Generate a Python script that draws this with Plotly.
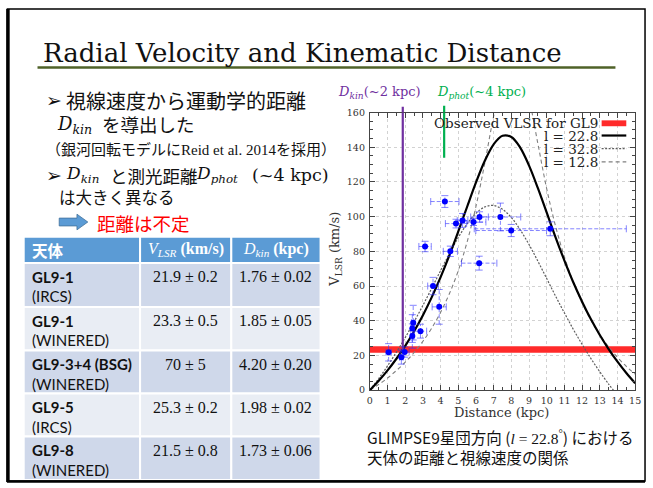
import plotly.graph_objects as go

# ---------------- data ----------------
dist_grid = [0, 0.5, 1, 1.5, 2, 2.5, 3, 3.5, 4, 4.5, 5, 5.5, 6, 6.5, 7, 7.5,
             8, 8.5, 9, 9.5, 10, 10.5, 11, 11.5, 12, 12.5, 13, 13.5, 14, 14.5, 15]
vlsr_l228 = [0, 5.4, 11.4, 18.1, 25.5, 33.9, 43.2, 53.6, 65.1, 77.8, 91.5, 105.7,
             119.7, 132.2, 141.7, 146.6, 145.9, 139.8, 129.4, 116.4, 102.3, 88.1,
             74.7, 62.2, 51.0, 40.8, 31.8, 23.7, 16.4, 9.9, 4.0]
vlsr_l128 = [0, 3.3, 7.0, 11.3, 16.1, 21.7, 28.2, 35.8, 44.9, 55.7, 68.9, 85.5,
             106, 131, 158, 180, 190, 186, 168, 142, 116, 94.5, 76.8, 62.3, 50.3,
             40.3, 32.0, 24.9, 18.9, 13.7, 9.2]
dist_l328 = [0, 0.5, 1, 1.5, 2, 2.5, 3, 3.5, 4, 4.5, 5, 5.5, 6, 6.5, 7, 7.5,
             8, 8.5, 9, 9.5, 10, 10.5, 11, 11.5, 12, 12.5, 13, 13.5, 13.77]
vlsr_l328 = [0, 6.7, 14.0, 21.9, 30.3, 39.4, 48.9, 58.8, 68.9, 78.8, 88.0, 95.9,
             101.9, 105.6, 106.4, 104.2, 99.5, 92.4, 83.9, 74.3, 64.3, 54.2, 44.5,
             35.1, 26.4, 18.2, 10.6, 3.5, 0]

obs_vlsr_range = [21.5, 25.3]          # observed VLSR band for GL9
obs_dist_range = [0, 15]

star_dist = [1.06, 1.78, 1.97, 2.40, 2.45, 2.40, 2.86, 3.57, 3.92, 3.12,
             4.55, 4.24, 4.87, 5.24, 5.86, 6.20, 7.38, 7.99, 10.20, 6.18]
star_vlsr = [21.8, 19.0, 22.0, 35.5, 38.9, 31.2, 34.0, 60.0, 48.0, 82.8,
             80.0, 108.7, 96.0, 97.8, 96.9, 99.8, 99.8, 92.0, 93.0, 73.2]
star_dist_err = [0.15, 0.10, 0.25, 0.10, 0.10, 0.10, 0.35, 0.30, 0.40, 0.35,
                 0.40, 0.80, 0.60, 0.30, 0.70, 0.50, 1.15, 2.00, 4.30, 1.00]
star_vlsr_err = [5, 4, 3, 8, 10, 7, 4, 5, 10, 3,
                 3, 3.4, 2.5, 4, 2, 3, 8, 3.5, 4, 4]

dkin_mark = 1.86      # D_kin (~2 kpc)
dkin_mark_vlsr = 22.5
dphot_mark = 4.2      # D_phot (~4 kpc)
dphot_mark_vlsr = 134

x_ticks = list(range(0, 16))
y_ticks = [0, 20, 40, 60, 80, 100, 120, 140, 160]

legend_labels = ["Observed VLSR for GL9", "l = 22.8", "l = 32.8", "l = 12.8"]

tbl_header = ["<b>天体</b>", "<i>V<sub>LSR</sub></i> <b>(km/s)</b>",
              "<i>D<sub>kin</sub></i> <b>(kpc)</b>"]
tbl_names = ["GL9-1", "GL9-1", "GL9-3+4 (BSG)", "GL9-5", "GL9-8"]
tbl_inst = ["IRCS", "WINERED", "WINERED", "IRCS", "WINERED"]
tbl_vlsr = ["21.9 ± 0.2", "23.3 ± 0.5", "70 ± 5", "25.3 ± 0.2", "21.5 ± 0.8"]
tbl_dkin = ["1.76 ± 0.02", "1.85 ± 0.05", "4.20 ± 0.20", "1.98 ± 0.02", "1.73 ± 0.06"]

# ---------------- layout helpers (pixel -> paper) ----------------
W, H = 653, 488
def px(x):
    return x / W
def py(y):
    return 1 - y / H

SERIF = "DejaVu Serif"
JP = "Noto Sans CJK JP"
EBAR = "rgba(50,50,255,0.6)"

fig = go.Figure()

# observed band
fig.add_trace(go.Scatter(
    x=[obs_dist_range[0], obs_dist_range[1], obs_dist_range[1], obs_dist_range[0], obs_dist_range[0]],
    y=[obs_vlsr_range[0], obs_vlsr_range[0], obs_vlsr_range[1], obs_vlsr_range[1], obs_vlsr_range[0]],
    fill="toself", fillcolor="#ff2a2a", line=dict(width=0), mode="lines",
    hoverinfo="skip", showlegend=False))

# rotation curves
fig.add_trace(go.Scatter(x=dist_l328, y=vlsr_l328, mode="lines",
                         line=dict(color="#5e5e5e", width=1.2, dash="2px,1.5px", shape="spline"),
                         showlegend=False))
fig.add_trace(go.Scatter(x=dist_grid, y=vlsr_l128, mode="lines",
                         line=dict(color="#808080", width=1.1, dash="4px,3px", shape="spline"),
                         showlegend=False))
fig.add_trace(go.Scatter(x=dist_grid, y=vlsr_l228, mode="lines",
                         line=dict(color="black", width=2.2, shape="spline"),
                         showlegend=False))

# marker lines inside plot
fig.add_trace(go.Scatter(x=[dkin_mark, dkin_mark], y=[dkin_mark_vlsr, y_ticks[-1]],
                         mode="lines", line=dict(color="#7030a0", width=2.2),
                         showlegend=False, hoverinfo="skip"))
fig.add_trace(go.Scatter(x=[dphot_mark, dphot_mark], y=[dphot_mark_vlsr, y_ticks[-1]],
                         mode="lines", line=dict(color="#00b050", width=2.2),
                         showlegend=False, hoverinfo="skip"))

# dashed error bars built from the data
hx, hy, vx, vy = [], [], [], []
for d, v, ed, ev in zip(star_dist, star_vlsr, star_dist_err, star_vlsr_err):
    hx += [d - ed, d + ed, None]
    hy += [v, v, None]
    vx += [d, d, None]
    vy += [v - ev, v + ev, None]
fig.add_trace(go.Scatter(x=hx, y=hy, mode="lines",
                         line=dict(color=EBAR, width=1, dash="4px,2px"),
                         showlegend=False, hoverinfo="skip"))
fig.add_trace(go.Scatter(x=vx, y=vy, mode="lines",
                         line=dict(color=EBAR, width=1, dash="4px,2px"),
                         showlegend=False, hoverinfo="skip"))
capx = [d - ed for d, ed in zip(star_dist, star_dist_err)] + [d + ed for d, ed in zip(star_dist, star_dist_err)]
capy = star_vlsr + star_vlsr
fig.add_trace(go.Scatter(x=capx, y=capy, mode="markers",
                         marker=dict(symbol="line-ns", size=5, line=dict(color=EBAR, width=1)),
                         showlegend=False, hoverinfo="skip"))
capx2 = star_dist + star_dist
capy2 = [v - ev for v, ev in zip(star_vlsr, star_vlsr_err)] + [v + ev for v, ev in zip(star_vlsr, star_vlsr_err)]
fig.add_trace(go.Scatter(x=capx2, y=capy2, mode="markers",
                         marker=dict(symbol="line-ew", size=5, line=dict(color=EBAR, width=1)),
                         showlegend=False, hoverinfo="skip"))
fig.add_trace(go.Scatter(x=star_dist, y=star_vlsr, mode="markers",
                         marker=dict(color="#0000ff", size=6),
                         showlegend=False))

# ---------------- axes ----------------
axis_common = dict(
    showline=True, linecolor="#444", linewidth=1, mirror="allticks",
    ticks="inside", ticklen=5, tickcolor="#444", tickwidth=1,
    showgrid=True, gridcolor="#d2d2d2", griddash="3px,3px", gridwidth=1,
    zeroline=False, tickfont=dict(family=SERIF, size=9.5, color="#333"),
)
fig.update_layout(
    xaxis=dict(domain=[px(372), px(641)], range=[0, 15], tickvals=x_ticks,
               minor=dict(dtick=0.5, ticks="inside", ticklen=3, tickcolor="#444", showgrid=False),
               anchor="y", ticklabelstandoff=1, **axis_common),
    yaxis=dict(domain=[py(393), py(109)], range=[0, 160], tickvals=y_ticks,
               minor=dict(dtick=5, ticks="inside", ticklen=3, tickcolor="#444", showgrid=False),
               anchor="x", ticklabelstandoff=2, **axis_common),
    width=W, height=H, margin=dict(l=0, r=0, t=0, b=0),
    plot_bgcolor="white", paper_bgcolor="white", showlegend=False,
)

# ---------------- shapes ----------------
shapes = [
    # slide frame
    dict(type="rect", xref="paper", yref="paper", x0=px(4.5), x1=px(651), y0=py(486), y1=py(3),
         line=dict(color="black", width=1.5)),
    dict(type="line", xref="paper", yref="paper", x0=px(5), x1=px(5), y0=py(487), y1=py(3),
         line=dict(color="black", width=3.5)),
    dict(type="line", xref="paper", yref="paper", x0=px(4), x1=px(651), y0=py(486.5), y1=py(486.5),
         line=dict(color="black", width=2.5)),
    # title underline
    dict(type="line", xref="paper", yref="paper", x0=px(35), x1=px(621), y0=py(63), y1=py(63),
         line=dict(color="#4f6228", width=2.5)),
    # marker line overhangs above plot
    dict(type="line", xref="x", yref="paper", x0=dkin_mark, x1=dkin_mark, y0=py(109), y1=py(103),
         line=dict(color="#7030a0", width=2.2)),
    dict(type="line", xref="x", yref="paper", x0=dphot_mark, x1=dphot_mark, y0=py(109), y1=py(102),
         line=dict(color="#00b050", width=2.2)),
    # legend samples
    dict(type="rect", xref="paper", yref="paper", x0=px(607), x1=px(632), y0=py(123), y1=py(117),
         fillcolor="#ff2a2a", line=dict(width=0)),
    dict(type="line", xref="paper", yref="paper", x0=px(607), x1=px(632), y0=py(132.5), y1=py(132.5),
         line=dict(color="black", width=2.2)),
    dict(type="line", xref="paper", yref="paper", x0=px(607), x1=px(632), y0=py(146), y1=py(146),
         line=dict(color="#5e5e5e", width=1.2, dash="2px,1.5px")),
    dict(type="line", xref="paper", yref="paper", x0=px(607), x1=px(632), y0=py(159.5), y1=py(159.5),
         line=dict(color="#808080", width=1.1, dash="4px,3px")),
    # blue block arrow
    dict(type="path", xref="paper", yref="paper",
         path=(f"M {px(57)} {py(217)} L {px(75)} {py(217)} L {px(75)} {py(213)} "
               f"L {px(86)} {py(221)} L {px(75)} {py(229)} L {px(75)} {py(225)} "
               f"L {px(57)} {py(225)} Z"),
         fillcolor="#5b9bd5", line=dict(color="#41719c", width=0.8)),
]

# table cells (drawn as rectangles)
col_edges = [21, 139, 231.5, 322]
row_edges = [236, 263, 308, 352.5, 396.5, 440.5, 485]
row_fills = ["#5b9bd5", "#cfd8ea", "#e9edf4", "#cfd8ea", "#e9edf4", "#cfd8ea"]
for r in range(len(row_edges) - 1):
    for c in range(len(col_edges) - 1):
        shapes.append(dict(type="rect", xref="paper", yref="paper",
                           x0=px(col_edges[c]), x1=px(col_edges[c + 1]),
                           y0=py(row_edges[r + 1]), y1=py(row_edges[r]),
                           fillcolor=row_fills[r], line=dict(color="white", width=2),
                           layer="below"))
fig.update_layout(shapes=shapes)

# ---------------- annotations ----------------
def txt(text, x, y, size, family=JP, color="#111", xanchor="left", **kw):
    return dict(text=text, x=px(x), y=py(y), xref="paper", yref="paper",
                xanchor=xanchor, yanchor="middle", showarrow=False,
                font=dict(family=family, size=size, color=color), **kw)

ann = [
    txt("Radial Velocity and Kinematic Distance", 39, 48, 26, family=SERIF, color="#111"),
    txt("➢", 42, 96.5, 19, family="DejaVu Sans"),
    txt("視線速度から運動学的距離", 62, 96.5, 20),
    txt("<i>D<sub>kin</sub></i>", 53, 121.5, 18, family=SERIF),
    txt("を導出した", 98, 121, 18.5),
    txt("（銀河回転モデルに<span style='font-family:Liberation Serif'>Reid et al. 2014</span>を採用）",
        42, 145.5, 15),
    txt("➢", 42, 173, 19, family="DejaVu Sans"),
    txt("<i>D<sub>kin</sub></i>", 62, 172.5, 17, family=SERIF),
    txt("と測光距離", 106, 173, 17.5),
    txt("<i>D<sub>phot</sub></i>", 194, 172.5, 17, family=SERIF),
    txt("(~4 kpc)", 250, 173, 17.5, family=SERIF),
    txt("は大きく異なる", 55, 195, 16.5),
    txt("距離は不定", 93, 222, 18.5, color="#ff0000"),
    # chart marker labels
    txt("<i>D<sub>kin</sub></i>(~2 kpc)", 338, 88, 13, family=SERIF, color="#7030a0"),
    txt("<i>D<sub>phot</sub></i>(~4 kpc)", 438, 88, 13, family=SERIF, color="#00b050"),
    # legend labels
    txt(legend_labels[0], 605, 120, 13.5, family=SERIF, color="#222", xanchor="right"),
    txt(legend_labels[1], 605, 132.5, 13.5, family=SERIF, color="#222", xanchor="right"),
    txt(legend_labels[2], 605, 146, 13.5, family=SERIF, color="#222", xanchor="right"),
    txt(legend_labels[3], 605, 159.5, 13.5, family=SERIF, color="#222", xanchor="right"),
    # axis titles
    txt("Distance (kpc)", 505, 416, 13, family=SERIF, color="#333", xanchor="center"),
    dict(text="V<sub>LSR</sub> (km/s)", x=px(337), y=py(249), xref="paper", yref="paper",
         xanchor="center", yanchor="middle", showarrow=False, textangle=-90,
         font=dict(family=SERIF, size=13, color="#333")),
    # caption
    txt("GLIMPSE9星団方向 (<span style='font-family:Liberation Serif'><i>l</i> = 22.8<sup>°</sup></span>) における",
        367, 441, 15.5),
    txt("天体の距離と視線速度の関係", 367, 461, 15.5),
]

# table texts
hy_c = (row_edges[0] + row_edges[1]) / 2
ann.append(txt(tbl_header[0], 27, hy_c, 15.5, family=JP, color="white"))
ann.append(txt(tbl_header[1], (col_edges[1] + col_edges[2]) / 2, hy_c, 16,
               family="Liberation Serif", color="white", xanchor="center"))
ann.append(txt(tbl_header[2], (col_edges[2] + col_edges[3]) / 2, hy_c, 16,
               family="Liberation Serif", color="white", xanchor="center"))
for i in range(len(tbl_names)):
    top = row_edges[i + 1]
    ann.append(txt(f"<b>{tbl_names[i]}</b>", 27, top + 14, 15, family="Lato"))
    ann.append(txt(f"({tbl_inst[i]})", 27, top + 34, 15, family="Lato"))
    ann.append(txt(tbl_vlsr[i], (col_edges[1] + col_edges[2]) / 2, top + 14, 16,
                   family="Liberation Serif", xanchor="center"))
    ann.append(txt(tbl_dkin[i], (col_edges[2] + col_edges[3]) / 2, top + 14, 16,
                   family="Liberation Serif", xanchor="center"))

fig.update_layout(annotations=ann)

fig.write_html("out.html")
